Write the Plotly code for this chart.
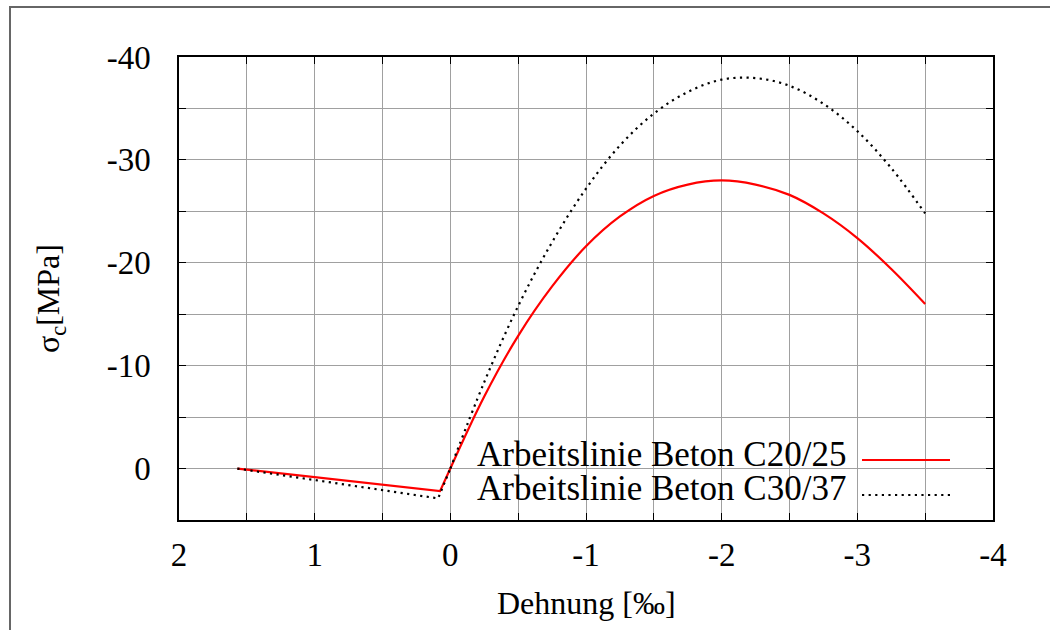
import plotly.graph_objects as go

# ---- data ----
strain_tension_c20 = [1.57, 0.076, 0.0]
stress_tension_c20 = [0.0, 2.2, 0.0]
strain_tension_c30 = [1.57, 0.09, 0.0]
stress_tension_c30 = [0.0, 2.9, 0.0]

strain_comp = [0.0, -0.25, -0.5, -0.75, -1.0, -1.25, -1.5, -1.75, -2.0,
               -2.25, -2.5, -2.75, -3.0, -3.25, -3.5]
stress_comp_c20 = [0.0, -7.0, -12.9, -17.7, -21.6, -24.5, -26.5, -27.6, -28.0,
                   -27.6, -26.6, -24.8, -22.4, -19.4, -16.0]
stress_comp_c30 = [0.0, -8.4, -15.8, -22.0, -27.2, -31.4, -34.5, -36.6, -37.8,
                   -37.95, -37.2, -35.45, -32.8, -29.2, -24.8]

x_tick_vals = [2, 1.5, 1, 0.5, 0, -0.5, -1, -1.5, -2, -2.5, -3, -3.5, -4]
x_tick_text = ["2", " ", "1", " ", "0", " ", "-1", " ", "-2", " ", "-3", " ", "-4"]
y_tick_vals = [5, 0, -5, -10, -15, -20, -25, -30, -35, -40]
y_tick_text = [" ", "0", " ", "-10", " ", "-20", " ", "-30", " ", "-40"]

legend_labels = ["Arbeitslinie Beton C20/25", "Arbeitslinie Beton C30/37"]
x_title = "Dehnung [‰]"
y_title = "σ<sub>c</sub>[MPa]"

FONT = "Liberation Serif"
RED = "#ff0000"
BLACK = "#000000"
DOT = "2.2px,4.4px"

fig = go.Figure()
fig.add_trace(go.Scatter(x=strain_tension_c20, y=stress_tension_c20, mode="lines",
                         line=dict(color=RED, width=2.2), showlegend=False))
fig.add_trace(go.Scatter(x=strain_comp, y=stress_comp_c20, mode="lines",
                         line=dict(color=RED, width=2.2, shape="spline"), showlegend=False))
fig.add_trace(go.Scatter(x=strain_tension_c30, y=stress_tension_c30, mode="lines",
                         line=dict(color=BLACK, width=2.2, dash=DOT), showlegend=False))
fig.add_trace(go.Scatter(x=strain_comp, y=stress_comp_c30, mode="lines",
                         line=dict(color=BLACK, width=2.2, dash=DOT, shape="spline"),
                         showlegend=False))

axis_common = dict(
    showgrid=True, gridcolor="#a0a0a0", gridwidth=1,
    zeroline=False, showline=True, linecolor="black", linewidth=1.5,
    mirror="ticks", ticks="inside", ticklen=7, tickwidth=1.3, tickcolor="black",
    tickfont=dict(family=FONT, size=33, color="black"),
)
fig.update_xaxes(range=[2, -4], tickmode="array", tickvals=x_tick_vals,
                 ticktext=x_tick_text, ticklabelstandoff=5, **axis_common)
fig.update_yaxes(range=[5, -40], tickmode="array", tickvals=y_tick_vals,
                 ticktext=y_tick_text, ticklabelstandoff=20, **axis_common)

W, H = 1050, 630
L, R, T, B = 179, 993, 57, 520
pw, ph = R - L, B - T


def px(xp):
    return (xp - L) / pw


def py(yp):
    return (B - yp) / ph


shapes = [
    # legend background
    dict(type="rect", xref="paper", yref="paper", x0=px(433), x1=px(972),
         y0=py(513), y1=py(435), fillcolor="white", line=dict(width=0), layer="between"),
    # legend samples
    dict(type="line", xref="paper", yref="paper", x0=px(862), x1=px(950),
         y0=py(460), y1=py(460), line=dict(color=RED, width=2.2)),
    dict(type="line", xref="paper", yref="paper", x0=px(862), x1=px(950),
         y0=py(495), y1=py(495), line=dict(color=BLACK, width=2.2, dash=DOT)),
    # outer frame
    dict(type="rect", xref="paper", yref="paper", x0=px(10), x1=px(1070),
         y0=py(650), y1=py(7), line=dict(color="#666666", width=2),
         fillcolor="rgba(0,0,0,0)", layer="above"),
]

annotations = [
    dict(text=legend_labels[0], xref="paper", yref="paper", x=px(848), y=py(454),
         xanchor="right", yanchor="middle", showarrow=False,
         font=dict(family=FONT, size=35, color="black")),
    dict(text=legend_labels[1], xref="paper", yref="paper", x=px(848), y=py(488),
         xanchor="right", yanchor="middle", showarrow=False,
         font=dict(family=FONT, size=35, color="black")),
    dict(text=x_title, xref="paper", yref="paper", x=0.5, y=py(603),
         xanchor="center", yanchor="middle", showarrow=False,
         font=dict(family=FONT, size=32, color="black")),
    dict(text=y_title, xref="paper", yref="paper", x=px(50), y=py(299),
         xanchor="center", yanchor="middle", showarrow=False, textangle=-90,
         font=dict(family=FONT, size=32, color="black")),
]

fig.update_layout(
    width=W, height=H,
    margin=dict(l=L, r=W - R, t=T, b=H - B, autoexpand=False),
    paper_bgcolor="white", plot_bgcolor="white",
    showlegend=False,
    shapes=shapes, annotations=annotations,
)

fig.write_html("out.html")
